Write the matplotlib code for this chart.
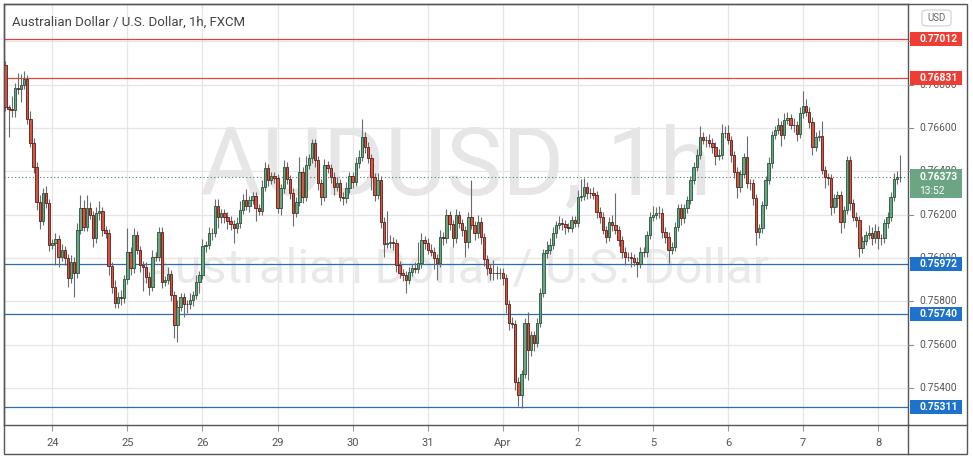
import matplotlib
matplotlib.use("Agg")
import matplotlib.pyplot as plt
from matplotlib.patches import Rectangle, FancyBboxPatch
from matplotlib.lines import Line2D
import numpy as np

# ---- data ----
title = "Australian Dollar / U.S. Dollar, 1h, FXCM"
first_open = 0.76891
closes = [
    0.76698, 0.76689, 0.76683, 0.76786, 0.76779, 0.76799, 0.76825, 0.76640, 0.76532, 0.76421,
    0.76260, 0.76172, 0.76301, 0.76252, 0.76060, 0.76067, 0.76086, 0.76006, 0.76036, 0.75998,
    0.75906, 0.75982, 0.75929, 0.76129, 0.76229, 0.76144, 0.76229, 0.76198, 0.76091, 0.76206,
    0.76215, 0.76129, 0.76114, 0.75963, 0.75867, 0.75790, 0.75821, 0.75813, 0.75901, 0.76029,
    0.75952, 0.76106, 0.76036, 0.75967, 0.75959, 0.75913, 0.75867, 0.76006, 0.76004, 0.76121,
    0.75890, 0.75898, 0.75926, 0.75829, 0.75690, 0.75775, 0.75818, 0.75787, 0.75785, 0.75806,
    0.75829, 0.75890, 0.75921, 0.76055, 0.76060, 0.76114, 0.76116, 0.76240, 0.76190, 0.76206,
    0.76190, 0.76172, 0.76157, 0.76137, 0.76160, 0.76221, 0.76267, 0.76240, 0.76267, 0.76286,
    0.76229, 0.76218, 0.76329, 0.76414, 0.76360, 0.76378, 0.76368, 0.76229, 0.76321, 0.76421,
    0.76363, 0.76301, 0.76209, 0.76260, 0.76398, 0.76283, 0.76429, 0.76460, 0.76529, 0.76452,
    0.76345, 0.76283, 0.76429, 0.76414, 0.76375, 0.76329, 0.76345, 0.76283, 0.76275, 0.76321,
    0.76378, 0.76352, 0.76437, 0.76467, 0.76560, 0.76514, 0.76460, 0.76372, 0.76291, 0.76360,
    0.76167, 0.76064, 0.76067, 0.76075, 0.76067, 0.75967, 0.75929, 0.75921, 0.75898, 0.75936,
    0.75952, 0.75950, 0.75975, 0.76083, 0.76070, 0.76036, 0.76029, 0.75998, 0.75978, 0.76098,
    0.76091, 0.76198, 0.76157, 0.76091, 0.76198, 0.76160, 0.76129, 0.76075, 0.76190, 0.76152,
    0.76114, 0.76167, 0.76095, 0.75994, 0.75952, 0.75929, 0.75932, 0.75931, 0.75932, 0.75906,
    0.75787, 0.75698, 0.75695, 0.75428, 0.75367, 0.75464, 0.75701, 0.75575, 0.75644, 0.75608,
    0.75701, 0.75839, 0.76021, 0.76036, 0.76060, 0.76114, 0.76152, 0.76163, 0.76157, 0.76141,
    0.76140, 0.76175, 0.76163, 0.76283, 0.76286, 0.76329, 0.76301, 0.76298, 0.76291, 0.76213,
    0.76190, 0.76129, 0.76098, 0.76167, 0.76152, 0.76129, 0.76083, 0.76029, 0.76006, 0.76005,
    0.75998, 0.75982, 0.75972, 0.76029, 0.76026, 0.76106, 0.76190, 0.76198, 0.76206, 0.76209,
    0.76121, 0.76098, 0.76036, 0.76052, 0.76144, 0.76229, 0.76183, 0.76229, 0.76267, 0.76360,
    0.76421, 0.76475, 0.76560, 0.76545, 0.76544, 0.76532, 0.76514, 0.76471, 0.76475, 0.76578,
    0.76576, 0.76545, 0.76475, 0.76398, 0.76326, 0.76388, 0.76465, 0.76345, 0.76344, 0.76275,
    0.76121, 0.76137, 0.76244, 0.76360, 0.76437, 0.76568, 0.76591, 0.76614, 0.76568, 0.76637,
    0.76645, 0.76614, 0.76613, 0.76572, 0.76668, 0.76702, 0.76675, 0.76629, 0.76514, 0.76560,
    0.76563, 0.76406, 0.76372, 0.76368, 0.76236, 0.76275, 0.76291, 0.76167, 0.76221, 0.76452,
    0.76252, 0.76190, 0.76175, 0.76044, 0.76079, 0.76106, 0.76114, 0.76091, 0.76126, 0.76091,
    0.76090, 0.76160, 0.76190, 0.76283, 0.76363, 0.76372, 0.76373,
]
# wick lengths in pips above / below the candle body
wick_up = [
    2, 1, 6, 2, 7, 5, 4, 2, 4, 2, 2, 3, 2, 3, 2, 2, 3, 2, 3, 2, 2, 3, 2, 3, 6, 4, 6, 3, 2, 3,
    5, 2, 2, 2, 2, 3, 2, 3, 2, 11, 2, 3, 2, 2, 2, 2, 2, 3, 2, 2, 2, 2, 3, 2, 2, 3, 2, 2, 2, 3,
    2, 3, 2, 3, 2, 3, 2, 3, 3, 2, 2, 2, 2, 2, 3, 4, 3, 5, 2, 2, 2, 2, 3, 3, 2, 2, 2, 2, 2, 3,
    2, 2, 2, 2, 7, 2, 4, 2, 2, 2, 2, 2, 3, 2, 2, 2, 3, 2, 2, 3, 2, 2, 3, 3, 8, 2, 2, 2, 2, 3,
    2, 2, 15, 3, 2, 2, 2, 2, 2, 2, 2, 3, 10, 3, 2, 2, 3, 2, 2, 3, 2, 3, 2, 2, 3, 2, 2, 2, 2, 17,
    2, 3, 2, 2, 2, 2, 6, 3, 2, 2, 2, 2, 3, 2, 2, 2, 2, 5, 2, 2, 2, 2, 2, 4, 3, 3, 2, 3, 2, 2,
    2, 2, 2, 3, 8, 4, 2, 2, 3, 2, 2, 2, 2, 2, 3, 15, 2, 2, 2, 2, 2, 2, 2, 2, 2, 2, 2, 4, 3, 3,
    2, 2, 2, 2, 2, 2, 2, 2, 2, 2, 2, 3, 5, 2, 2, 3, 2, 2, 3, 4, 3, 4, 2, 2, 2, 2, 2, 10, 2, 2,
    2, 2, 2, 2, 3, 2, 2, 3, 2, 3, 3, 2, 3, 2, 3, 7, 3, 2, 2, 2, 3, 7, 2, 2, 2, 2, 2, 2, 2, 2,
    2, 2, 2, 2, 2, 2, 4, 3, 3, 2, 2, 2, 2, 2, 3, 3, 10,
]
wick_dn = [
    2, 13, 3, 3, 2, 6, 2, 2, 2, 3, 4, 4, 2, 2, 3, 2, 10, 5, 2, 3, 4, 2, 11, 2, 2, 2, 2, 2, 4, 2,
    3, 3, 2, 4, 3, 2, 2, 3, 2, 2, 3, 2, 2, 3, 11, 3, 4, 2, 2, 2, 3, 2, 2, 3, 6, 8, 2, 6, 4, 2,
    3, 2, 5, 2, 3, 2, 3, 2, 5, 3, 3, 4, 3, 7, 2, 2, 2, 2, 3, 2, 6, 2, 2, 2, 3, 2, 2, 2, 3, 2,
    2, 3, 6, 2, 2, 3, 2, 2, 2, 3, 3, 4, 2, 2, 3, 4, 2, 2, 3, 2, 2, 3, 2, 2, 2, 3, 2, 6, 3, 2,
    3, 6, 2, 2, 3, 3, 2, 3, 6, 2, 2, 2, 2, 2, 3, 2, 2, 5, 8, 2, 3, 2, 3, 4, 2, 2, 3, 7, 3, 2,
    3, 2, 3, 3, 3, 3, 3, 3, 3, 3, 4, 3, 2, 4, 5, 6, 2, 14, 3, 4, 2, 2, 2, 2, 2, 2, 2, 2, 3, 3,
    2, 2, 2, 2, 2, 2, 3, 2, 2, 3, 3, 2, 3, 2, 3, 2, 3, 3, 4, 2, 4, 2, 6, 2, 2, 2, 2, 2, 2, 2,
    3, 3, 6, 2, 2, 2, 3, 2, 2, 2, 2, 2, 2, 2, 3, 2, 3, 4, 2, 2, 2, 2, 3, 3, 5, 2, 2, 2, 3, 3,
    6, 3, 2, 2, 2, 2, 2, 2, 5, 2, 2, 2, 3, 3, 2, 2, 2, 3, 4, 2, 2, 2, 5, 3, 4, 3, 4, 5, 3, 2,
    3, 2, 3, 4, 2, 2, 2, 3, 2, 5, 3, 2, 2, 2, 2, 2, 2,
]
day_labels = ["24", "25", "26", "29", "30", "31", "Apr", "2", "5", "6", "7", "8"]
first_day_bar = 15          # bar index of the first "24" bar
bars_per_day = 24
price_ticks = [0.7540, 0.7560, 0.7580, 0.7600, 0.7620, 0.7640, 0.7660, 0.7680, 0.7700]
# 0.77000 sits fully under the 0.77012 badge, so it gets no label
price_labels = [0.7540, 0.7560, 0.7580, 0.7600, 0.7620, 0.7640, 0.7660, 0.7680]
red_levels = [0.77012, 0.76831]
blue_levels = [0.75972, 0.75740, 0.75311]
last_price = 0.76373
countdown = "13:52"

# ---- colours ----
UP_FILL, UP_EDGE = "#6ba583", "#225437"
DN_FILL, DN_EDGE = "#d75442", "#5b1a13"
WICK = "#6b6b6d"
RED_LINE, RED_BOX = "#e0463c", "#ef3d33"
BLUE_LINE, BLUE_BOX = "#2b6cae", "#1f72cc"
FRAME = "#555555"
GRID = "#e6e6e6"

W, H = 973, 458
PX_PER_PRICE = 21650.0      # 2.165 px per pip


def fx(px):
    return px / W


def fy(py):
    return 1 - py / H


opens = [first_open] + closes[:-1]
highs = [max(o, c) + u * 1e-4 for o, c, u in zip(opens, closes, wick_up)]
lows = [min(o, c) - d * 1e-4 for o, c, d in zip(opens, closes, wick_dn)]
x = np.arange(len(closes))

fig = plt.figure(figsize=(W / 100, H / 100), dpi=100)
fig.patch.set_facecolor("white")

# main price pane: pixel box 4..908 x 4..425
ax = fig.add_axes([fx(4), fy(425), (908 - 4) / W, (425 - 4) / H])
ymin = 0.7660 - (425 - 128) / PX_PER_PRICE
ymax = 0.7660 + (128 - 4) / PX_PER_PRICE
ax.set_ylim(ymin, ymax)
ax.set_xlim(-0.45, 288.55)

ax.set_yticks(price_ticks)
ax.tick_params(axis="y", left=False, labelleft=False)
day_pos = [first_day_bar + bars_per_day * k for k in range(len(day_labels))]
ax.set_xticks(day_pos)
ax.set_xticklabels(day_labels, fontsize=8, color="#555555",
                   family=["Liberation Sans Narrow", "Roboto"])
ax.tick_params(axis="x", length=4, width=0.8, color="#9a9a9a", pad=5)
ax.grid(True, color=GRID, lw=0.9)
ax.set_axisbelow(True)
for s in ax.spines.values():
    s.set_color(FRAME)
    s.set_linewidth(1.0)

# watermark
ax.text(0.5, (425 - 168) / 421, "AUDUSD, 1h", transform=ax.transAxes,
        ha="center", va="center", fontsize=68, color="#e6e6e6",
        family="Roboto", zorder=0.4)
ax.text(0.5, (425 - 270) / 421, "Australian Dollar / U.S. Dollar", transform=ax.transAxes,
        ha="center", va="center", fontsize=35, color="#e9e9e9",
        family="Roboto", zorder=0.4)

# title
fig.text(fx(12), fy(22), title, fontsize=9.5, color="#444444",
         family="Roboto", va="center", ha="left")

# horizontal levels
for v in red_levels:
    ax.axhline(v, color=RED_LINE, lw=0.9, zorder=1.5)
for v in blue_levels:
    ax.axhline(v, color=BLUE_LINE, lw=0.9, zorder=1.5)
ax.axhline(last_price, color="#4f7f68", lw=0.8, ls=(0, (1, 2.2)), zorder=1.5)

# candles
up = [c >= o for o, c in zip(opens, closes)]
bottoms = [min(o, c) for o, c in zip(opens, closes)]
heights = [max(abs(c - o), 0.000012) for o, c in zip(opens, closes)]
ax.vlines(x, lows, highs, color=WICK, lw=0.8, zorder=2)
ax.bar(x, heights, bottom=bottoms, width=0.76,
       color=[UP_FILL if u else DN_FILL for u in up],
       edgecolor=[UP_EDGE if u else DN_EDGE for u in up],
       linewidth=0.6, zorder=3)

# right price scale: pixel box 908..967
ax2 = fig.add_axes([fx(908), fy(425), (967 - 908) / W, (425 - 4) / H])
ax2.set_xlim(908, 967)
ax2.set_ylim(ymin, ymax)
ax2.axis("off")
ppp = 1 / PX_PER_PRICE
for v in price_ticks:
    ax2.plot([908, 913], [v, v], color="#8a8a8a", lw=0.8)
for v in price_labels:
    ax2.text(919, v, f"{v:.5f}", ha="left", va="center", fontsize=7.4,
             color="#555555", family="Roboto")


def price_box(v, color, top_px=6.8, bot_px=6.8):
    ax2.add_patch(FancyBboxPatch((909.5, v - bot_px * ppp), 52.5, (top_px + bot_px) * ppp,
                                 boxstyle="square,pad=0", fc=color, ec="none", zorder=5))


for v in red_levels:
    price_box(v, RED_BOX)
    ax2.text(919, v, f"{v:.5f}", ha="left", va="center", fontsize=7.4,
             color="white", weight="bold", family="Roboto", zorder=6)
for v in blue_levels:
    price_box(v, BLUE_BOX)
    ax2.text(919, v, f"{v:.5f}", ha="left", va="center", fontsize=7.4,
             color="white", weight="bold", family="Roboto", zorder=6)
price_box(last_price, UP_FILL, top_px=8.5, bot_px=20.5)
ax2.text(919, last_price, f"{last_price:.5f}", ha="left", va="center", fontsize=7.4,
         color="white", weight="bold", family="Roboto", zorder=6)
ax2.text(919, last_price - 14 * ppp, countdown, ha="left", va="center", fontsize=7.4,
         color="white", family="Roboto", zorder=6)

# currency badge
fig.add_artist(FancyBboxPatch((fx(922), fy(26)), 29 / W, 16 / H,
                              boxstyle="round,pad=0,rounding_size=0.006",
                              transform=fig.transFigure, fc="white", ec="#cfcfcf", lw=0.8))
fig.text(fx(936.5), fy(18), "USD", ha="center", va="center", fontsize=7,
         color="#666666", family="Roboto")

# outer frame and pane separators
fig.add_artist(Rectangle((fx(4), fy(454)), (967 - 4) / W, (454 - 4) / H,
                         transform=fig.transFigure, fill=False, ec=FRAME, lw=1.0))
fig.add_artist(Line2D([fx(908), fx(908)], [fy(425), fy(454)],
                      transform=fig.transFigure, color=FRAME, lw=1.0))
fig.add_artist(Line2D([fx(908), fx(967)], [fy(425), fy(425)],
                      transform=fig.transFigure, color=FRAME, lw=1.0))

fig.savefig("out.png", dpi=100, facecolor="white")
